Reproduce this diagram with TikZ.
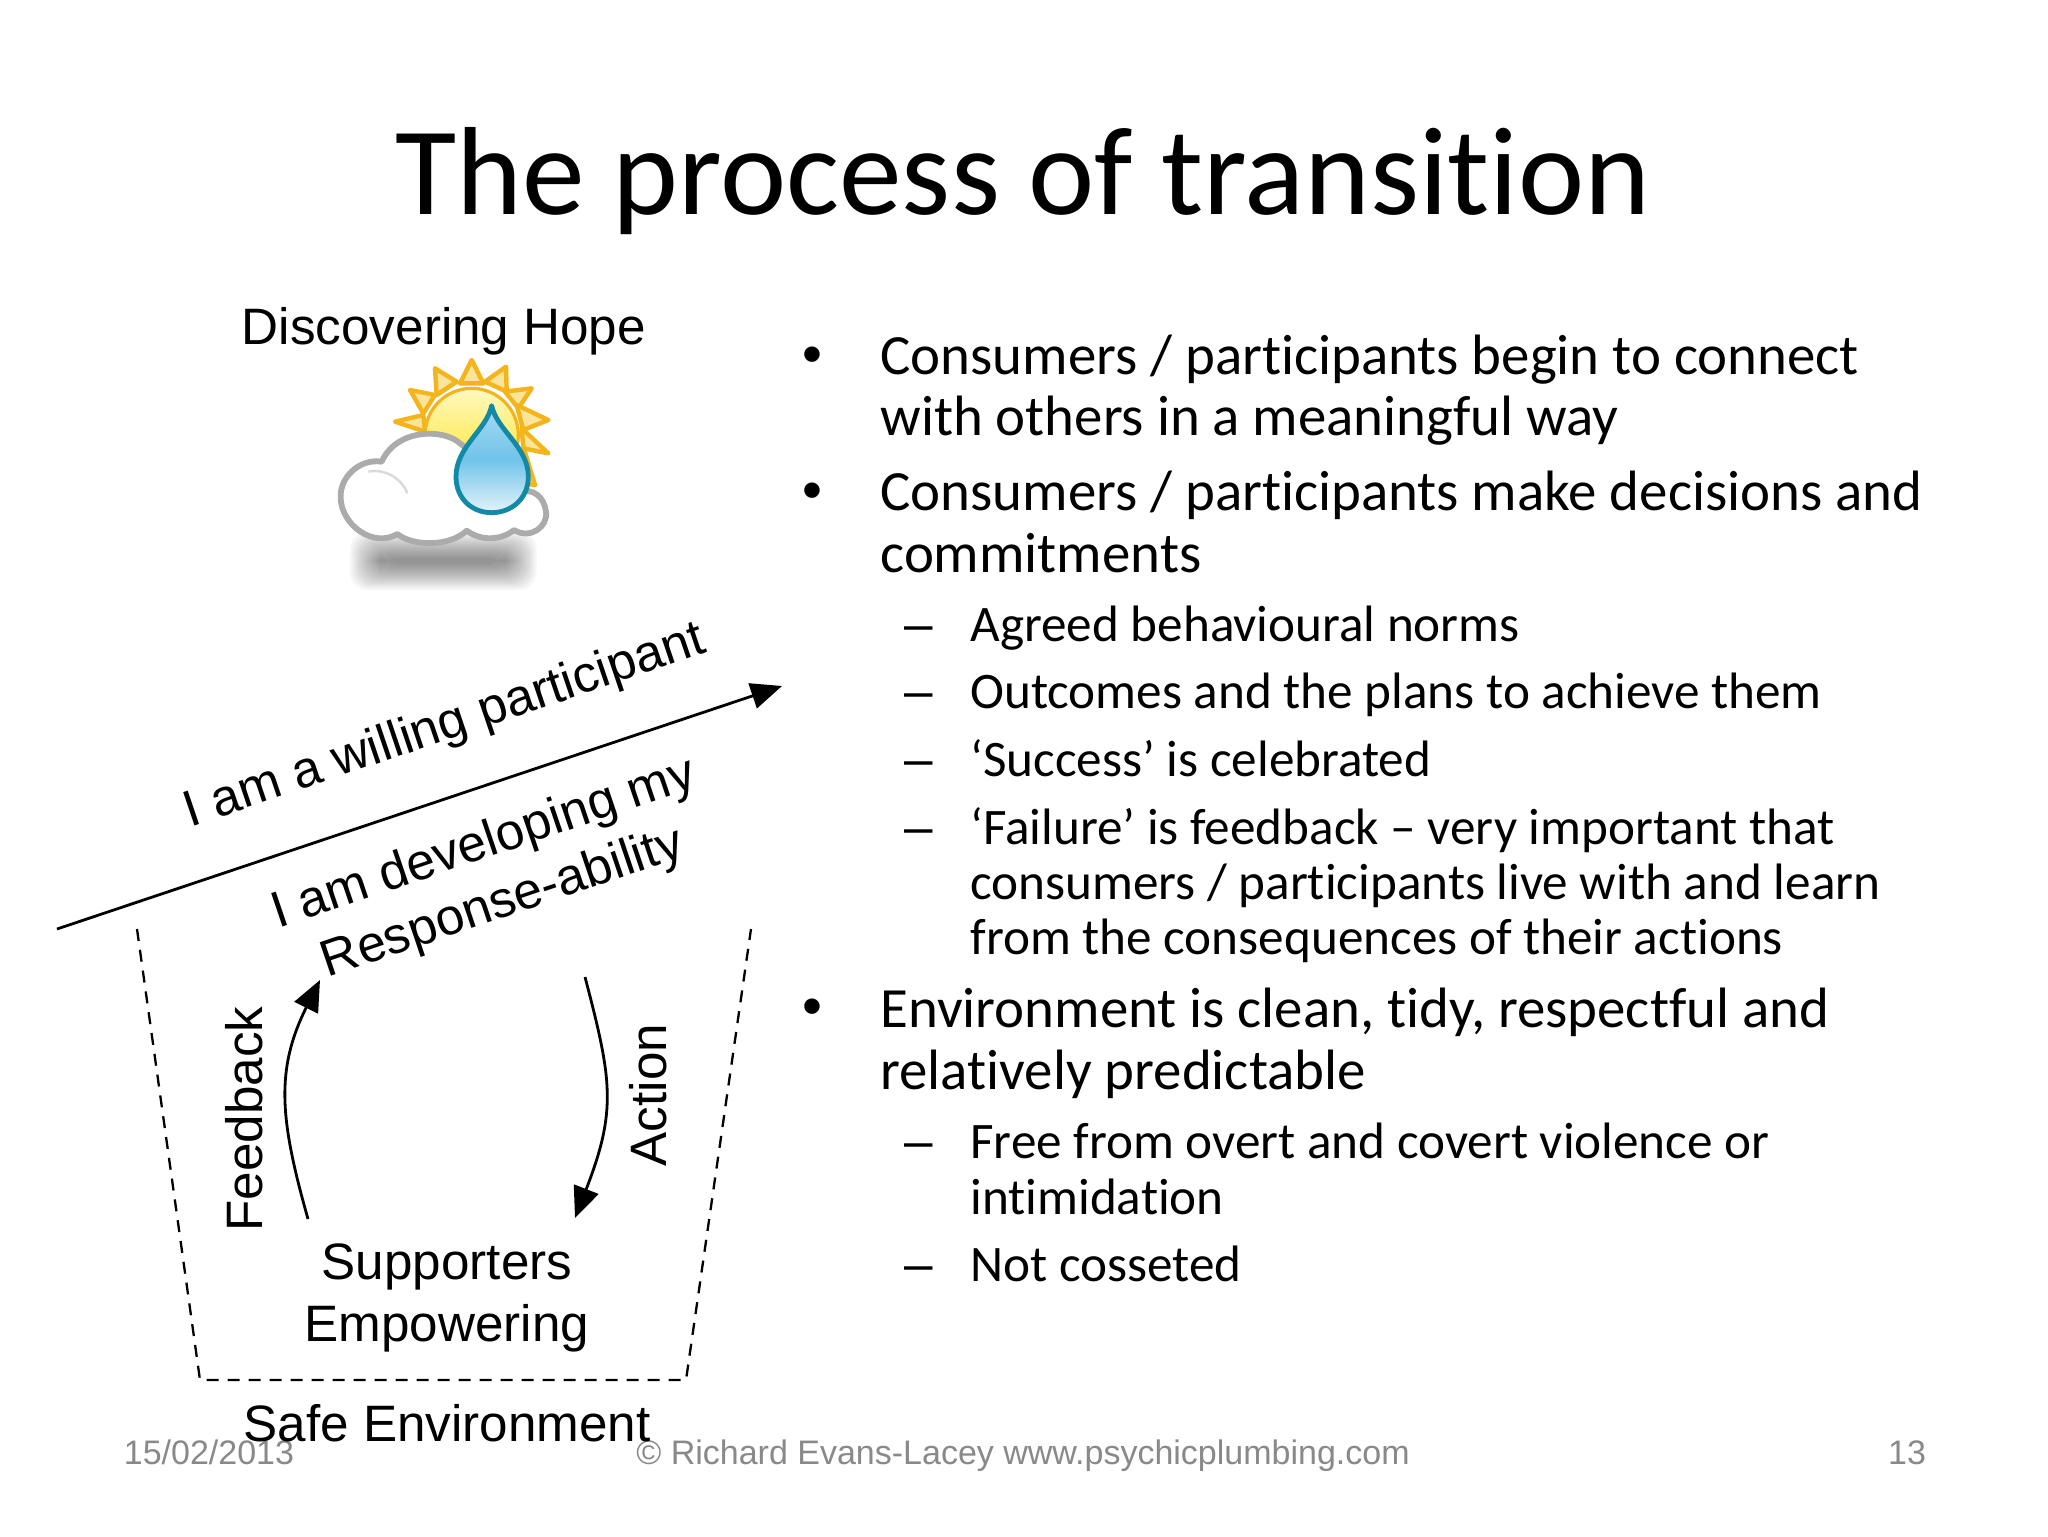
\documentclass[tikz,border=0pt]{standalone}
\usepackage{fontspec}
\setmainfont[Ligatures=NoCommon]{Carlito}
\newfontfamily\arialf{Liberation Sans}
\usetikzlibrary{arrows.meta}
\definecolor{footgrey}{HTML}{898989}
\definecolor{rayor}{HTML}{F4B41C}
\definecolor{rayfill}{HTML}{FCE49A}
\definecolor{cloudgrey}{HTML}{ABABAB}
\definecolor{dropline}{HTML}{128AA6}
\definecolor{droptop}{HTML}{A9DAF2}
\definecolor{dropmid}{HTML}{70C3EA}
\definecolor{dropbot}{HTML}{E4F3FA}
\definecolor{suntop}{HTML}{FFF8C0}
\definecolor{sunmid}{HTML}{FFEE70}
\definecolor{sunbot}{HTML}{FFD800}
\tikzset{
  titletext/.style={font=\fontsize{62.7}{62.7}\selectfont,anchor=center,inner sep=0pt},
  bullettext/.style={font=\fontsize{28.44}{28.44}\selectfont,anchor=base west,inner sep=0pt},
  subtext/.style={font=\fontsize{25.6}{25.6}\selectfont,anchor=base west,inner sep=0pt},
  bulletmark/.style={font=\arialf\fontsize{28.44}{28.44}\selectfont,anchor=base,inner sep=0pt},
  dashmark/.style={font=\arialf\fontsize{25.6}{25.6}\selectfont,anchor=base,inner sep=0pt},
  diagtext/.style={font=\arialf\fontsize{25.6}{25.6}\selectfont,anchor=center,inner sep=0pt,align=center},
  foottext/.style={font=\arialf\fontsize{17}{17}\selectfont,text=footgrey,anchor=base,inner sep=0pt},
  flowline/.style={line width=1.4pt,-{Triangle[length=15.5pt,width=13pt]}},
  safeline/.style={line width=1.15pt,dash pattern=on 6pt off 4.5pt}
}
\begin{document}
\begin{tikzpicture}[x=0.5pt,y=-0.5pt]
\useasboundingbox[fill=white] (0,0) rectangle (2048,1536);

\node[titletext] (title) at (1023,181) {The process of transition};

% right text
\begin{scope}[shift={(0,1.5)}]
\node[bulletmark] (b1) at (812,372) {•};
\node[bullettext] (t1) at (880,373) {Consumers / participants begin to connect};
\node[bullettext] (t1b) at (880,434) {with others in a meaningful way};
\node[bulletmark] (b2) at (812,508) {•};
\node[bullettext] (t2) at (880,509) {Consumers / participants make decisions and};
\node[bullettext] (t2b) at (880,571) {commitments};
\node[dashmark] (d1) at (919,640) {–};
\node[subtext] (s1) at (970,640) {Agreed behavioural norms};
\node[dashmark] (d2) at (919,707) {–};
\node[subtext] (s2) at (970,707) {Outcomes and the plans to achieve them};
\node[dashmark] (d3) at (919,775) {–};
\node[subtext] (s3) at (970,775) {‘Success’ is celebrated};
\node[dashmark] (d4) at (919,843) {–};
\node[subtext] (s4) at (970,843) {‘Failure’ is feedback – very important that};
\node[subtext] (s4b) at (970,898) {consumers / participants live with and learn};
\node[subtext] (s4c) at (970,953) {from the consequences of their actions};
\node[bulletmark] (b3) at (812,1024) {•};
\node[bullettext] (t3) at (880,1026) {Environment is clean, tidy, respectful and};
\node[bullettext] (t3b) at (880,1088) {relatively predictable};
\node[dashmark] (d5) at (919,1157) {–};
\node[subtext] (s5) at (970,1157) {Free from overt and covert violence or};
\node[subtext] (s5b) at (970,1213) {intimidation};
\node[dashmark] (d6) at (919,1280) {–};
\node[subtext] (s6) at (970,1280) {Not cosseted};
\end{scope}

% left diagram
\node[diagtext] (hope) at (444,331) {Discovering Hope};

% icon
\begin{scope}[shift={(300,340)},x=0.16667pt,y=-0.16667pt]
  % shadow
  \foreach \i in {0,...,13}{
    \fill[black,opacity=0.035,rounded corners=9pt]
      (150+\i*7,575+\i*6) rectangle (710-\i*7,750-\i*6);
  }
  % rays
  \foreach \tx/\ty/\lx/\ly/\rx/\ry in {
    285/245/370/225/375/275,
    330/150/405/165/370/220,
    405/85/470/125/410/165,
    515/60/550/130/480/130,
    618/80/620/155/555/125,
    695/145/655/205/615/155,
    745/240/670/270/650/195,
    745/340/670/325/665/265,
    705/435/670/430/670/320}{
    \filldraw[fill=rayfill,draw=rayor,line width=2.2pt,line join=round]
      (\tx,\ty) -- (\lx,\ly) -- (\rx,\ry) -- cycle;
  }
  \path[top color=suntop,bottom color=sunbot,middle color=sunmid,draw=rayor,line width=1.6pt]
    (515,285) circle[radius=140];
  % cloud
  \path[fill=white,draw=cloudgrey,line width=2.9pt,line join=round]
    (245,365) .. controls (180,355) and (118,410) .. (122,475)
    .. controls (125,555) and (220,625) .. (292,582)
    .. controls (340,620) and (450,620) .. (500,572)
    .. controls (545,605) and (605,600) .. (642,570)
    .. controls (690,600) and (745,560) .. (738,515)
    .. controls (732,470) and (700,445) .. (660,455)
    -- (480,310)
    .. controls (430,265) and (290,265) .. (245,365) -- cycle;
  \draw[cloudgrey!45,line width=1.2pt] (205,395) .. controls (255,385) and (305,415) .. (322,460);
  % drop
  \path[top color=droptop,bottom color=dropbot,middle color=dropmid,draw=dropline,line width=2.4pt,line join=round]
    (575,197) .. controls (590,270) and (685,320) .. (685,410)
    .. controls (685,475) and (635,518) .. (575,518)
    .. controls (515,518) and (468,475) .. (468,410)
    .. controls (468,320) and (560,270) .. (575,197) -- cycle;
\end{scope}

% main arrow
\coordinate (mainstart) at (57,929);
\coordinate (maintip) at (782,686);
\draw[flowline] (mainstart) -- (maintip);

\node[diagtext,rotate=18.7] (willing) at (445,727) {I am a willing participant};
\node[diagtext,rotate=18.7] (develop) at (484,845) {I am developing my};
\node[diagtext,rotate=18.7] (respons) at (503,904) {Response-ability};

% safe box
\coordinate (safea) at (137,929);
\coordinate (safeb) at (200,1380);
\coordinate (safec) at (686,1380);
\coordinate (safed) at (751,929);
\draw[safeline] (safea) -- (safeb) -- (safec) -- (safed);

% loop
\coordinate (fbstart) at (308,1219);
\coordinate (fbtip) at (320,980);
\coordinate (acstart) at (585,977);
\coordinate (actip) at (575,1218);
\draw[flowline] (fbstart) .. controls (280,1120) and (275,1070) .. (fbtip);
\draw[flowline] (acstart) .. controls (612,1080) and (617,1110) .. (actip);

\node[diagtext,rotate=90] (feedback) at (244,1119) {Feedback};
\node[diagtext,rotate=90] (action) at (648,1095) {Action};
\node[diagtext] (supp) at (447,1267) {Supporters};
\node[diagtext] (emp) at (447,1328) {Empowering};

% footer
\node[foottext] (date) at (209,1464) {15/02/2013};
\node[foottext] (copy) at (1023,1464) {© Richard Evans-Lacey www.psychicplumbing.com};
\node[foottext] (page) at (1907,1464) {13};
\node[diagtext] (safe) at (447,1423) {Safe Environment};
\end{tikzpicture}
\end{document}
